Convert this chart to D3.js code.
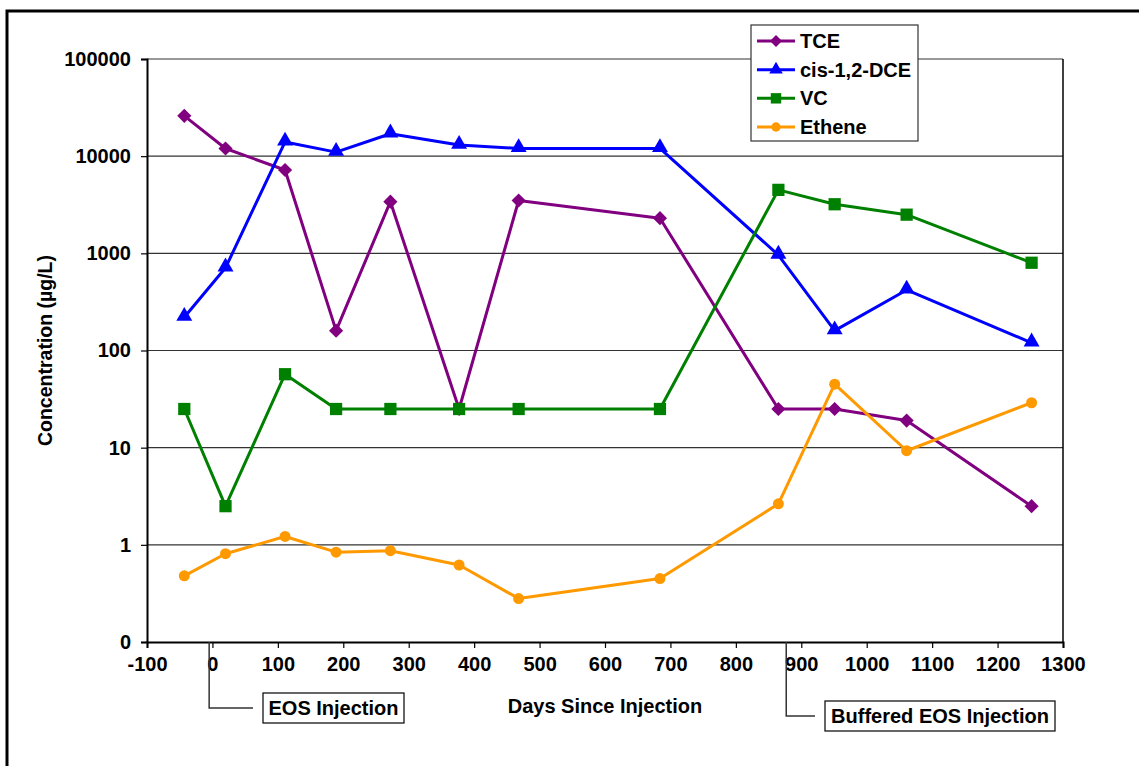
<!DOCTYPE html>
<html>
<head>
	<meta charset="utf-8">
	<script src="https://d3js.org/d3.v7.min.js"></script>
	<style>
		body { margin: 0; background: #fff; }
		svg text { font-family: "Liberation Sans", Arial, sans-serif; font-weight: bold; fill: #000; }
	</style>
</head>
<body>
	<svg width="1139" height="766"></svg>
	<script>
		// days since injection for each sampling event
		const days = [-43, 20, 111, 189, 272, 377, 468, 684, 865, 951, 1061, 1252];

		const tce    = [26000, 12000, 7200, 160, 3400, 25, 3500, 2300, 25, 25, 19, 2.5];
		const cisDce = [220, 710, 14000, 11000, 17000, 13000, 12000, 12000, 960, 160, 420, 120];
		const vc     = [25, 2.5, 57, 25, 25, 25, 25, 25, 4500, 3200, 2500, 800];
		const ethene = [0.48, 0.81, 1.22, 0.84, 0.87, 0.62, 0.28, 0.45, 2.64, 45, 9.3, 29];

		const seriesNames = ["TCE", "cis-1,2-DCE", "VC", "Ethene"];
		const seriesColors = ["#800080", "#0000ff", "#008000", "#ff9900"];
		const seriesShapes = ["diamond", "triangle", "square", "circle"];
		const seriesValues = [tce, cisDce, vc, ethene];

		const yTicks = [0.1, 1, 10, 100, 1000, 10000, 100000];
		const yTickLabels = ["0", "1", "10", "100", "1000", "10000", "100000"];
		const xTicks = d3.range(-100, 1301, 100);

		const annoLabels = ["EOS Injection", "Buffered EOS Injection"];
		const annoDays = [-5, 877];

		const svg = d3.select("svg");
		const plot = {left: 147, right: 1063, top: 59, bottom: 642};

		const x = d3.scaleLinear().domain([-100, 1300]).range([plot.left, plot.right]);
		const y = d3.scaleLog().domain([0.1, 100000]).range([plot.bottom, plot.top]);

		// outer frame
		svg.append("rect")
			.attr("x", 7).attr("y", 11)
			.attr("width", 1200).attr("height", 900)
			.attr("fill", "none").attr("stroke", "#000").attr("stroke-width", 3);

		// gridlines
		svg.append("g").selectAll("line")
			.data(yTicks.slice(1))
			.enter().append("line")
			.attr("x1", plot.left).attr("x2", plot.right)
			.attr("y1", d => y(d)).attr("y2", d => y(d))
			.attr("stroke", "#333").attr("stroke-width", 1.2);

		// plot border right side
		svg.append("line")
			.attr("x1", plot.right).attr("x2", plot.right)
			.attr("y1", plot.top).attr("y2", plot.bottom)
			.attr("stroke", "#000").attr("stroke-width", 1.5);

		// y axis
		const yAxis = svg.append("g")
			.attr("transform", `translate(${plot.left},0)`)
			.call(d3.axisLeft(y).tickValues(yTicks).tickSize(6).tickPadding(10)
				.tickFormat((d, i) => yTickLabels[i]));
		yAxis.select(".domain").attr("stroke", "#000").attr("stroke-width", 2);
		yAxis.selectAll(".tick line").attr("stroke", "#000").attr("stroke-width", 1.2);
		yAxis.selectAll("text").style("font-size", "20px");

		// x axis
		const xAxis = svg.append("g")
			.attr("transform", `translate(0,${plot.bottom})`)
			.call(d3.axisBottom(x).tickValues(xTicks).tickSize(6).tickPadding(9)
				.tickFormat(d => String(d)));
		xAxis.select(".domain").attr("stroke", "#000").attr("stroke-width", 2);
		xAxis.selectAll(".tick line").attr("stroke", "#000").attr("stroke-width", 1.2);
		xAxis.selectAll("text").style("font-size", "20px");

		// axis titles
		svg.append("text")
			.attr("transform", `translate(52,${(plot.top + plot.bottom) / 2}) rotate(-90)`)
			.attr("text-anchor", "middle")
			.style("font-size", "19.5px")
			.text("Concentration (µg/L)");

		svg.append("text")
			.attr("x", 605).attr("y", 713)
			.attr("text-anchor", "middle")
			.style("font-size", "20px")
			.text("Days Since Injection");

		// markers
		function marker(shape, scale) {
			const s = scale || 1;
			if (shape === "diamond") return d3.symbol().type(d3.symbolSquare).size(100 * s * s)();
			if (shape === "triangle") return d3.symbol().type(d3.symbolTriangle).size(110 * s * s)();
			if (shape === "square") return d3.symbol().type(d3.symbolSquare).size(150 * s * s)();
			return d3.symbol().type(d3.symbolCircle).size(95 * s * s)();
		}

		const line = d3.line()
			.x((d, i) => x(days[i]))
			.y(d => y(d));

		seriesValues.forEach((vals, k) => {
			const g = svg.append("g");
			g.append("path")
				.datum(vals)
				.attr("fill", "none")
				.attr("stroke", seriesColors[k])
				.attr("stroke-width", 3)
				.attr("stroke-linejoin", "round")
				.attr("d", line);
			g.selectAll("path.pt")
				.data(vals)
				.enter().append("path")
				.attr("class", "pt")
				.attr("d", marker(seriesShapes[k]))
				.attr("fill", seriesColors[k])
				.attr("transform", (d, i) => `translate(${x(days[i])},${y(d)})` +
					(seriesShapes[k] === "diamond" ? " rotate(45)" : "") +
					(seriesShapes[k] === "triangle" ? " translate(0,-1)" : ""));
		});

		// legend
		const legend = svg.append("g");
		legend.append("rect")
			.attr("x", 751).attr("y", 25)
			.attr("width", 167).attr("height", 116)
			.attr("fill", "#fff").attr("stroke", "#333").attr("stroke-width", 1.2);
		const legendY = d3.scalePoint().domain(seriesNames).range([41, 127]);
		seriesNames.forEach((name, k) => {
			const ly = legendY(name);
			legend.append("line")
				.attr("x1", 757).attr("x2", 795)
				.attr("y1", ly).attr("y2", ly)
				.attr("stroke", seriesColors[k]).attr("stroke-width", 3);
			legend.append("path")
				.attr("d", marker(seriesShapes[k], 0.85))
				.attr("fill", seriesColors[k])
				.attr("transform", `translate(776,${ly})` + (seriesShapes[k] === "diamond" ? " rotate(45)" : ""));
			legend.append("text")
				.attr("x", 800).attr("y", ly + 7)
				.style("font-size", "20px")
				.text(name);
		});

		// annotations
		const annoBoxes = [{x: 263, y: 693, w: 141, h: 30}, {x: 825, y: 701, w: 230, h: 30}];
		annoLabels.forEach((label, k) => {
			const ax = x(annoDays[k]);
			const b = annoBoxes[k];
			const midY = b.y + b.h / 2;
			svg.append("path")
				.attr("d", `M${ax},${plot.bottom}V${midY}H${b.x - 10}`)
				.attr("fill", "none").attr("stroke", "#333").attr("stroke-width", 1.5);
			svg.append("rect")
				.attr("x", b.x).attr("y", b.y).attr("width", b.w).attr("height", b.h)
				.attr("fill", "#fff").attr("stroke", "#000").attr("stroke-width", 1.2);
			svg.append("text")
				.attr("x", b.x + b.w / 2).attr("y", midY + 7)
				.attr("text-anchor", "middle")
				.style("font-size", "20px")
				.text(label);
		});
	</script>
</body>
</html>
